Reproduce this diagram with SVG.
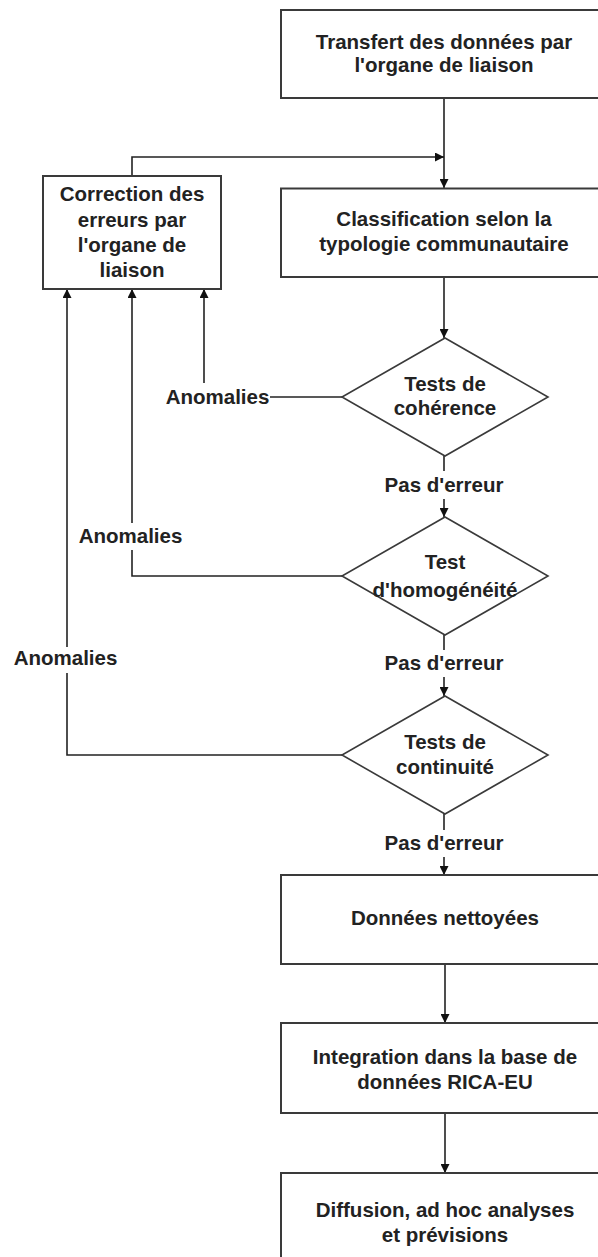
<svg xmlns="http://www.w3.org/2000/svg" width="598" height="1257" viewBox="0 0 598 1257">
<style>
.box{fill:#fff;stroke:#3a3a3a;stroke-width:2}
.dia{fill:#fff;stroke:#3a3a3a;stroke-width:1.6}
.t{font-family:"Liberation Sans",Arial,sans-serif;font-weight:bold;font-size:20.5px;fill:#222;text-anchor:middle}
.c{fill:none;stroke:#222;stroke-width:1.6}
.a{marker-end:url(#ah)}
</style>
<defs>
<marker id="ah" viewBox="0 0 10 10" refX="10" refY="5" markerWidth="9" markerHeight="9" markerUnits="userSpaceOnUse" orient="auto">
<path d="M0,0 L10,5 L0,10 z" fill="#111"/>
</marker>
</defs>
<rect width="598" height="1257" fill="#fff"/>
<g id="connectors">
<path class="c a" d="M444,98 V188"/>
<path class="c a" d="M132,176 V157 H444"/>
<path class="c a" d="M444,277 V338"/>
<path class="c" d="M342,397 H270"/>
<path class="c a" d="M204,383 V289"/>
<path class="c" d="M444,456 V471"/>
<path class="c a" d="M444,499 V517"/>
<path class="c" d="M342,576 H132 V550"/>
<path class="c a" d="M132,523 V289"/>
<path class="c" d="M444,635 V650"/>
<path class="c a" d="M444,677 V696"/>
<path class="c" d="M342,755 H67 V673"/>
<path class="c a" d="M67,647 V289"/>
<path class="c" d="M444,814 V830"/>
<path class="c a" d="M444,857 V875"/>
<path class="c a" d="M445,964 V1023"/>
<path class="c a" d="M445,1113 V1173"/>
<text class="t" x="217.5" y="404">Anomalies</text>
<text class="t" x="130.5" y="543">Anomalies</text>
<text class="t" x="65.5" y="665">Anomalies</text>
<text class="t" x="444" y="492">Pas d'erreur</text>
<text class="t" x="444" y="670">Pas d'erreur</text>
<text class="t" x="444" y="850">Pas d'erreur</text>
</g>
<g id="n-transfert">
<rect class="box" x="281" y="10" width="328" height="88"/>
<text class="t" x="444" y="49">Transfert des données par</text>
<text class="t" x="444" y="72">l'organe de liaison</text>
</g>
<g id="n-classification">
<rect class="box" x="281" y="188.5" width="328" height="88.5"/>
<text class="t" x="444" y="226">Classification selon la</text>
<text class="t" x="444" y="251">typologie communautaire</text>
</g>
<g id="n-correction">
<rect class="box" x="43" y="176" width="178" height="113"/>
<text class="t" x="132" y="201">Correction des</text>
<text class="t" x="132" y="227">erreurs par</text>
<text class="t" x="132" y="252">l'organe de</text>
<text class="t" x="132" y="277">liaison</text>
</g>
<g id="n-coherence">
<polygon class="dia" points="445,338 548,397 445,456 342,397"/>
<text class="t" x="445" y="391">Tests de</text>
<text class="t" x="445" y="415">cohérence</text>
</g>
<g id="n-homogeneite">
<polygon class="dia" points="445,517 548,576 445,635 342,576"/>
<text class="t" x="445" y="569">Test</text>
<text class="t" x="445" y="597">d'homogénéité</text>
</g>
<g id="n-continuite">
<polygon class="dia" points="445,696 548,755 445,814 342,755"/>
<text class="t" x="445" y="749">Tests de</text>
<text class="t" x="445" y="774">continuité</text>
</g>
<g id="n-nettoyees">
<rect class="box" x="281" y="875" width="328" height="89"/>
<text class="t" x="445" y="925">Données nettoyées</text>
</g>
<g id="n-integration">
<rect class="box" x="281" y="1023" width="328" height="90"/>
<text class="t" x="445" y="1064">Integration dans la base de</text>
<text class="t" x="445" y="1089">données RICA-EU</text>
</g>
<g id="n-diffusion">
<rect class="box" x="281" y="1173" width="328" height="90"/>
<text class="t" x="445" y="1217">Diffusion, ad hoc analyses</text>
<text class="t" x="445" y="1242">et prévisions</text>
</g>
</svg>
